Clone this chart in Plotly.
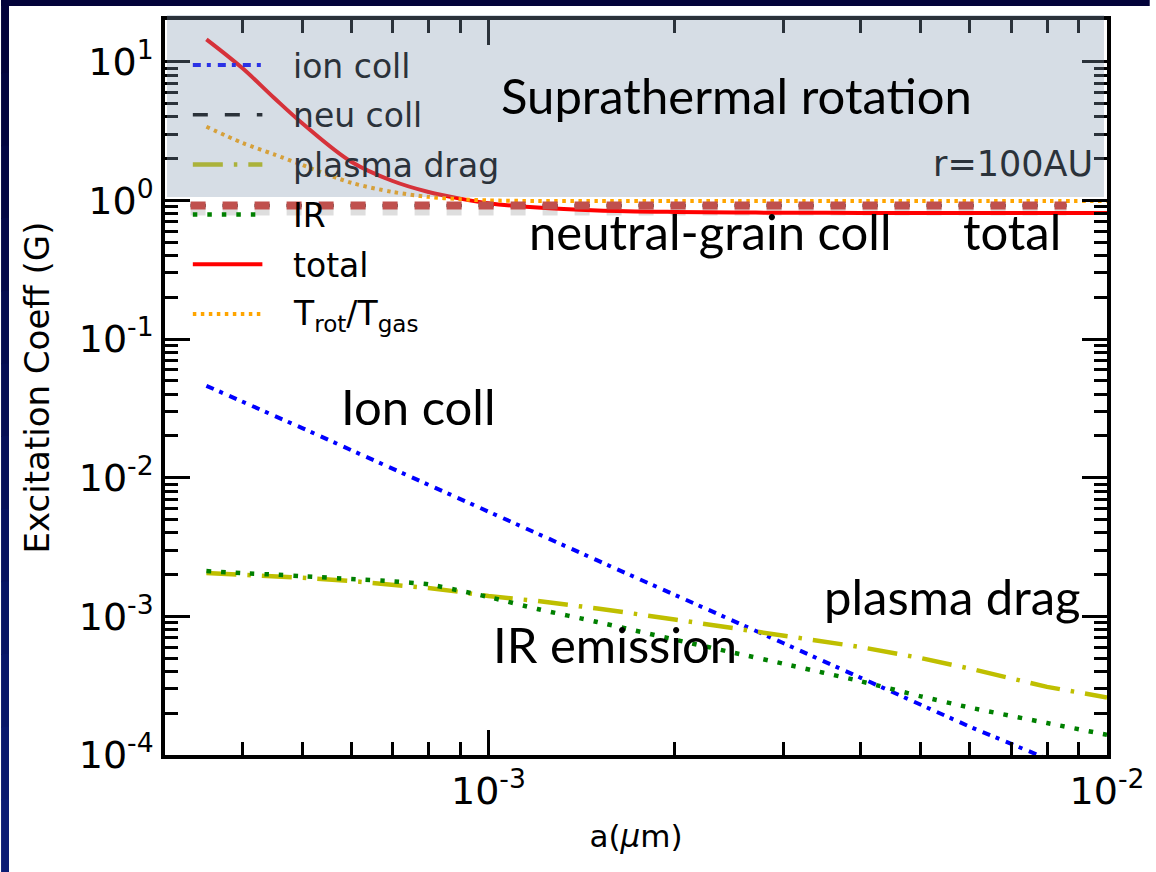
import math
import plotly.graph_objects as go

# ---- data -------------------------------------------------------------
# grain radius a (micron)
a_um = [3.5e-4, 4e-4, 4.5e-4, 5e-4, 6e-4, 7e-4, 8e-4, 9e-4, 1e-3, 1.2e-3,
        1.5e-3, 2e-3, 2.5e-3, 3e-3, 4e-3, 5e-3, 6e-3, 8e-3, 1e-2]

ion_coll = [0.046, 0.0355, 0.028, 0.0228, 0.0158, 0.0116, 0.0089, 0.0070,
            0.0057, 0.0039, 0.00253, 0.00143, 9.1e-4, 6.4e-4, 3.6e-4,
            2.3e-4, 1.6e-4, 9.4e-5, 6.0e-5]

plasma_drag = [2.05e-3, 2.0e-3, 1.95e-3, 1.9e-3, 1.8e-3, 1.7e-3, 1.6e-3,
               1.5e-3, 1.4e-3, 1.29e-3, 1.14e-3, 9.5e-4, 8.2e-4, 7.2e-4,
               6.0e-4, 5.0e-4, 4.2e-4, 3.1e-4, 2.6e-4]

ir_emission = [2.12e-3, 2.05e-3, 2.0e-3, 1.95e-3, 1.86e-3, 1.79e-3, 1.7e-3,
               1.53e-3, 1.38e-3, 1.13e-3, 9.1e-4, 6.8e-4, 5.45e-4, 4.55e-4,
               3.4e-4, 2.65e-4, 2.2e-4, 1.7e-4, 1.4e-4]

total = [14.5, 9.0, 5.5, 3.6, 1.9, 1.38, 1.15, 1.03, 0.955, 0.887, 0.847,
         0.826, 0.818, 0.815, 0.812, 0.81, 0.81, 0.81, 0.81]

trot_tgas = [3.4, 2.6, 2.15, 1.8, 1.34, 1.15, 1.06, 1.02, 1.0, 0.99, 0.99,
             0.99, 0.99, 0.99, 0.99, 0.99, 0.99, 0.99, 0.99]

# neutral-grain collisions: flat level, highlighted span
neu_a = [3.3e-4, 8.6e-3]
neu_coll = [0.92, 0.92]

x_tickvals = [1e-3, 1e-2]
x_ticktext = ["10<sup>-3</sup>", "10<sup>-2</sup>"]
y_tickvals = [1e-4, 1e-3, 1e-2, 1e-1, 1e0, 1e1]
y_ticktext = ["10<sup>-4</sup>", "10<sup>-3</sup>", "10<sup>-2</sup>",
              "10<sup>-1</sup>", "10<sup>0</sup>", "10<sup>1</sup>"]

legend_labels = ["ion coll", "neu coll", "plasma drag", "IR", "total",
                 "T<sub>rot</sub>/T<sub>gas</sub>"]

# ---- geometry / styles ---------------------------------------------------
W, H = 1156, 872
ML, MR, MT, MB = 165, 43, 20, 117
PW, PH = W - ML - MR, H - MT - MB

X_RANGE = (3e-4, 1e-2)
Y_RANGE = (1e-4, 20.0)

FONT = "DejaVu Sans"
NOTE_FONT = "Lato"
SHADE = "rgba(130,152,176,0.33)"
SHADED_TEXT = "rgb(43,50,58)"

styles = {
    "ion coll": dict(color="#0000ff", width=4, dash="8px,6px,4px,7px"),
    "neu coll": dict(color="#000000", width=3.5, dash="15px,17px"),
    "plasma drag": dict(color="#bfbf00", width=4.5, dash="30px,11px,3.5px,11px"),
    "IR": dict(color="#008000", width=4.5, dash="4.5px,10px"),
    "total": dict(color="#ff0000", width=4),
    "trot": dict(color="#ffa500", width=4, dash="3.5px,4.5px"),
}


def px(x):
    return (x - ML) / PW


def py(y):
    return (MT + PH - y) / PH


fig = go.Figure()

# soft shadow under the highlighted neutral-collision band
fig.add_trace(go.Scatter(
    x=neu_a, y=[v * 0.925 for v in neu_coll], mode="lines",
    line=dict(color="rgba(0,0,0,0.13)", width=11, dash="15px,17px"),
    hoverinfo="skip", showlegend=False))

fig.add_trace(go.Scatter(x=a_um, y=ion_coll, mode="lines",
                         line=styles["ion coll"], name="ion coll", showlegend=False))
fig.add_trace(go.Scatter(x=neu_a, y=neu_coll, mode="lines",
                         line=styles["neu coll"], name="neu coll", showlegend=False))
fig.add_trace(go.Scatter(x=a_um, y=plasma_drag, mode="lines",
                         line=styles["plasma drag"], name="plasma drag", showlegend=False))
fig.add_trace(go.Scatter(x=a_um, y=ir_emission, mode="lines",
                         line=dict(**styles["IR"], shape="spline", smoothing=0.6),
                         name="IR", showlegend=False))
fig.add_trace(go.Scatter(x=a_um, y=total, mode="lines",
                         line=dict(**styles["total"], shape="spline", smoothing=1.0),
                         name="total", showlegend=False))
fig.add_trace(go.Scatter(x=a_um, y=trot_tgas, mode="lines",
                         line=dict(**styles["trot"], shape="spline", smoothing=0.8),
                         name="Trot/Tgas", showlegend=False))

# thick highlight over the neutral-grain collision level
fig.add_trace(go.Scatter(x=neu_a, y=neu_coll, mode="lines",
                         line=dict(color="#c0504d", width=8, dash="15px,17px"),
                         hoverinfo="skip", showlegend=False))

shapes = []
annotations = []

# hand-built legend (sample lines + labels)
legend_keys = ["ion coll", "neu coll", "plasma drag", "IR", "total", "trot"]
for i, (key, label) in enumerate(zip(legend_keys, legend_labels)):
    cy = 65 + 49.8 * i
    st = styles[key]
    shapes.append(dict(
        type="line", xref="paper", yref="paper", layer="above",
        x0=px(193), x1=px(263), y0=py(cy), y1=py(cy),
        line=dict(color=st["color"], width=st["width"], dash=st.get("dash", "solid"))))
    annotations.append(dict(
        text=label, xref="paper", yref="paper", x=px(292), y=py(cy + 1),
        xanchor="left", yanchor="middle", showarrow=False,
        font=dict(family=FONT, size=33,
                  color=SHADED_TEXT if i < 3 else "black")))

annotations.append(dict(
    text="r=100AU", xref="paper", yref="paper", x=px(1101), y=py(164),
    xanchor="right", yanchor="middle", showarrow=False,
    font=dict(family=FONT, size=35, color=SHADED_TEXT)))

# translucent band marking the suprathermal regime
shapes.append(dict(
    type="rect", xref="paper", yref="paper", layer="above",
    x0=px(167), x1=px(1110), y0=py(197), y1=py(15),
    fillcolor=SHADE, line=dict(width=0)))

# region / process labels
notes = [
    ("Suprathermal rotation", 740, 95),
    ("neutral-grain coll", 713, 231),
    ("total", 1017, 231),
    ("Ion coll", 420, 406),
    ("IR emission", 618, 644),
    ("plasma drag", 958, 596),
]
for text, cx, cy in notes:
    annotations.append(dict(
        text=text, xref="paper", yref="paper", x=px(cx), y=py(cy),
        xanchor="center", yanchor="middle", showarrow=False,
        font=dict(family=NOTE_FONT, size=49, color="black")))

# navy frame strips along the left and top edges
shapes.append(dict(type="rect", xref="paper", yref="paper", layer="above",
                   x0=px(0), x1=px(W), y0=py(0), y1=py(6),
                   fillcolor="#03033a", line=dict(width=0)))
n_seg = 12
for k in range(n_seg):
    t = k / (n_seg - 1)
    r = int(3 + t * 8)
    g = int(3 + t * 25)
    b = int(58 + t * 58)
    shapes.append(dict(type="rect", xref="paper", yref="paper", layer="above",
                       x0=px(0), x1=px(8),
                       y0=py(H * k / n_seg), y1=py(H * (k + 1) / n_seg + 1),
                       fillcolor=f"rgb({r},{g},{b})", line=dict(width=0)))

x_minor = [m * 10.0 ** e for e in (-4, -3) for m in range(2, 10)
           if X_RANGE[0] < m * 10.0 ** e < X_RANGE[1]]
y_minor = [m * 10.0 ** e for e in range(-4, 2) for m in range(2, 10)
           if Y_RANGE[0] < m * 10.0 ** e < Y_RANGE[1]]

axis_common = dict(
    type="log", showgrid=False, zeroline=False,
    showline=True, linecolor="black", linewidth=3.5, mirror="allticks",
    ticks="inside", ticklen=25, tickwidth=3, tickcolor="black",
    tickfont=dict(family=FONT, size=38, color="black"),
)

fig.update_layout(
    width=W, height=H,
    margin=dict(l=ML, r=MR, t=MT, b=MB),
    paper_bgcolor="white", plot_bgcolor="white",
    showlegend=False,
    xaxis=dict(
        **axis_common,
        range=[math.log10(X_RANGE[0]), math.log10(X_RANGE[1])],
        tickvals=x_tickvals, ticktext=x_ticktext,
        minor=dict(tickvals=x_minor, ticks="inside", ticklen=13,
                   tickwidth=3, tickcolor="black", showgrid=False),
        title=dict(text="a(<i>\u03bc</i>m)", font=dict(family=FONT, size=31, color="black"),
                   standoff=14),
    ),
    yaxis=dict(
        **axis_common,
        range=[math.log10(Y_RANGE[0]), math.log10(Y_RANGE[1])],
        tickvals=y_tickvals, ticktext=y_ticktext,
        minor=dict(tickvals=y_minor, ticks="inside", ticklen=13,
                   tickwidth=3, tickcolor="black", showgrid=False),
        title=dict(text="Excitation Coeff (G)", font=dict(family=FONT, size=34, color="black"),
                   standoff=20),
    ),
    shapes=shapes,
    annotations=annotations,
)

fig.write_html("out.html")
